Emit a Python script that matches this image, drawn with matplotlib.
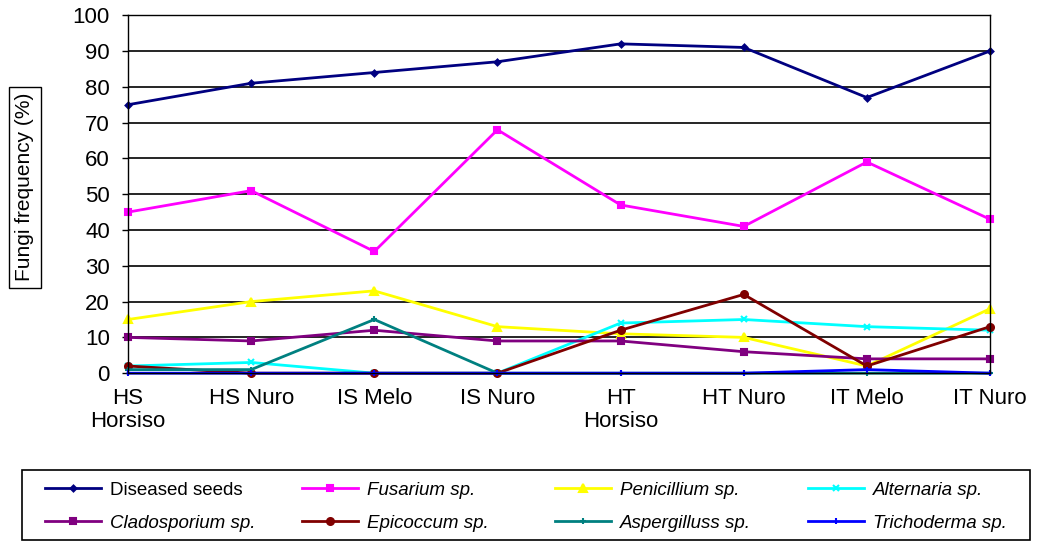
import numpy as np
import matplotlib.pyplot as plt
from matplotlib.patches import Rectangle

plt.rcParams['font.family'] = ['Liberation Sans', 'DejaVu Sans']

# sites on the x axis
sites = ["HS\nHorsiso", "HS Nuro", "IS Melo", "IS Nuro",
         "HT\nHorsiso", "HT Nuro", "IT Melo", "IT Nuro"]

# fungi frequency (%)
diseased = [75, 81, 84, 87, 92, 91, 77, 90]
fusarium = [45, 51, 34, 68, 47, 41, 59, 43]
penicillium = [15, 20, 23, 13, 11, 10, 2, 18]
alternaria = [2, 3, 0, 0, 14, 15, 13, 12]
cladosporium = [10, 9, 12, 9, 9, 6, 4, 4]
epicoccum = [2, 0, 0, 0, 12, 22, 2, 13]
aspergillus = [1, 1, 15, 0, 0, 0, 0, 0]
trichoderma = [0, 0, 0, 0, 0, 0, 1, 0]

series = [
    ("Diseased seeds", diseased, "#000080", "D", 3, False),
    ("Fusarium sp.", fusarium, "#FF00FF", "s", 5, True),
    ("Penicillium sp.", penicillium, "#FFFF00", "^", 6, True),
    ("Alternaria sp.", alternaria, "#00FFFF", "x", 5, True),
    ("Cladosporium sp.", cladosporium, "#800080", "s", 4, True),
    ("Epicoccum sp.", epicoccum, "#800000", "o", 5, True),
    ("Aspergilluss sp.", aspergillus, "#008080", "+", 5, True),
    ("Trichoderma sp.", trichoderma, "#0000FF", "|", 4, True),
]

fig = plt.figure(figsize=(10.41, 5.44), dpi=100)
ax = fig.add_axes([0.123, 0.314, 0.828, 0.658])

x = np.arange(len(sites))
handles = []
for name, vals, col, mk, ms, it in series:
    h, = ax.plot(x, vals, color=col, marker=mk, markersize=ms, linewidth=2,
                 markeredgecolor=col, markeredgewidth=1.5, label=name, clip_on=False)
    handles.append(h)

ax.set_xlim(0, len(sites) - 1)
ax.set_ylim(0, 100)
ax.set_yticks(np.arange(0, 101, 10))
ax.set_xticks(x)
ax.set_xticklabels(sites, fontsize=16, linespacing=1.1)
ax.tick_params(axis='y', labelsize=16, length=4, width=1, pad=9)
ax.tick_params(axis='x', length=0, pad=11)
ax.grid(axis='y', color='black', linewidth=1.2)
ax.set_axisbelow(True)
for s in ax.spines.values():
    s.set_color('black')
    s.set_linewidth(1)

fig.text(0.024, 0.656, "Fungi frequency (%)", rotation=90, fontsize=15,
         ha='center', va='center',
         bbox=dict(boxstyle='square,pad=0.3', facecolor='white', edgecolor='black', linewidth=1))

# legend box, one small legend per column (filled row by row in the original)
fig.patches.append(Rectangle((0.0211, 0.0074), 0.968, 0.1287, transform=fig.transFigure,
                             facecolor='none', edgecolor='black', linewidth=1.2))
col_x = [45, 302, 555, 808]
for c in range(4):
    pair = [c, c + 4]
    leg = fig.legend([handles[i] for i in pair], [series[i][0] for i in pair],
                     loc='center left', bbox_to_anchor=(col_x[c] / 1041, 0.0689),
                     fontsize=13.5, frameon=False, handlelength=3.0,
                     handletextpad=0.45, borderaxespad=0, borderpad=0,
                     labelspacing=0.85)
    for txt, i in zip(leg.get_texts(), pair):
        if series[i][5]:
            txt.set_fontstyle('italic')

fig.savefig("out.png", dpi=100)
